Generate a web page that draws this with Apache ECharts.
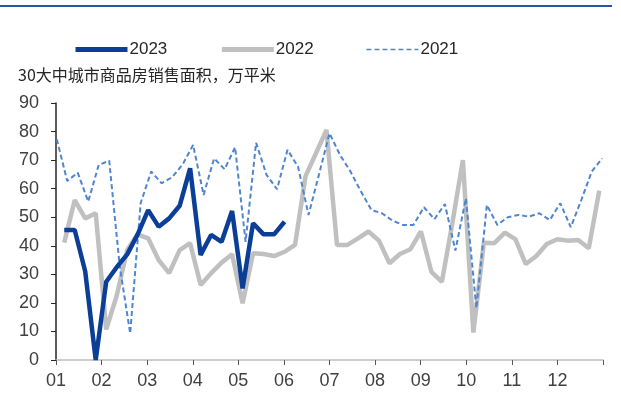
<!DOCTYPE html>
<html>
<head>
<meta charset="utf-8">
<script src="https://cdn.jsdelivr.net/npm/echarts@6/dist/echarts.min.js"></script>
<style>
html,body{margin:0;padding:0;background:#fff;}
#c{width:621px;height:397px;}
</style>
</head>
<body>
<div id="c"></div>
<script>
// Month tick labels on x axis
const monthLabels = ['01','02','03','04','05','06','07','08','09','10','11','12',''];
const yTicks = [0,10,20,30,40,50,60,70,80,90];
const seriesNames = ['2023','2022','2021'];

// Weekly values (万平米)
const v2023 = [45.5,45.5,31,0,27.4,32.5,37,44,52.5,46.7,49.6,54,67.1,36.8,43.8,41.4,52.2,25.1,47.9,44,44,48.4];
const v2022 = [41.1,56,49.6,51.4,10.7,22.5,38.5,44,42.6,35,30.4,38.5,40.9,26.3,30.4,34.1,37,19.9,37.4,37.1,36.4,37.9,40.3,64.4,72.4,80.6,40.3,40.3,42.6,45,41.8,33.9,37.1,38.8,45,30.9,27.4,48,70,9.6,41.1,40.9,44.6,42.3,33.6,36.4,40.6,42.3,41.8,42,39.1,59.3];
const v2021 = [77.3,62.7,65.6,55.5,68.3,69.8,33,9.3,55,66,61.9,64,68.5,75.3,57.8,70.6,66.8,74.5,41.4,76.1,64.8,59.8,73.6,67.7,50.8,65,79.4,71.8,66,59,52.5,51.4,48.8,47.3,47.3,53.5,49.3,54.6,38.3,56.6,18.1,54.3,47.3,50,50.8,50.2,51.4,49,54.9,46.5,56,66,70.6];

// first-week day offset within the year
const start2023 = 5.5, start2022 = 5.5, start2021 = 0.5;
const DAYS_PER_MONTH = 365 / 12;

function toPairs(vals, startDay) {
  return vals.map((v, i) => [(startDay + 7 * i) / DAYS_PER_MONTH, v]);
}

const chart = echarts.init(document.getElementById('c'), null, {renderer: 'canvas'});
const font = "'Liberation Sans', Arial, sans-serif";
chart.setOption({
  animation: false,
  backgroundColor: '#ffffff',
  graphic: [
    {type: 'line', shape: {x1: 0, y1: 6, x2: 612, y2: 6}, style: {stroke: '#2756a8', lineWidth: 2}},
    {type: 'text', left: 18, top: 67, style: {text: '30大中城市商品房销售面积，万平米', font: "16px 'Noto Sans CJK SC'", fill: '#262626'}}
  ],
  legend: {
    data: [
      {name: '2023', lineStyle: {width: 5}},
      {name: '2022', lineStyle: {width: 5}},
      {name: '2021', lineStyle: {width: 1.6}}
    ],
    left: 68, top: 36,
    itemWidth: 52, itemHeight: 14, itemGap: 52,
    itemStyle: {opacity: 0},
    textStyle: {fontFamily: font, fontSize: 17, color: '#262626', padding: [0,0,0,-3]}
  },
  grid: {left: 56, right: 18, top: 103, bottom: 37},
  xAxis: {
    type: 'value', min: 0, max: 12, interval: 1,
    axisLine: {lineStyle: {color: '#bfbfbf', width: 1.5}},
    axisTick: {show: true, length: 5, lineStyle: {color: '#595959'}},
    splitLine: {show: false},
    axisLabel: {margin: 12, fontFamily: font, fontSize: 18, color: '#404040',
      formatter: v => monthLabels[Math.round(v)] }
  },
  yAxis: {
    type: 'value', min: yTicks[0], max: yTicks[yTicks.length-1], interval: 10,
    axisLine: {show: true, lineStyle: {color: '#262626', width: 1.5}},
    axisTick: {show: true, length: 5, lineStyle: {color: '#262626'}},
    splitLine: {show: false},
    axisLabel: {margin: 17, fontFamily: font, fontSize: 18, color: '#404040'}
  },
  series: [
    {name: '2022', type: 'line', data: toPairs(v2022, start2022), symbol: 'none', z: 2,
      lineStyle: {color: '#c0c0c0', width: 4.5}, itemStyle: {color: '#c0c0c0'}},
    {name: '2021', type: 'line', data: toPairs(v2021, start2021), symbol: 'none', z: 3,
      lineStyle: {color: '#4f86cf', width: 2, type: [5, 3]}, itemStyle: {color: '#4f86cf'}},
    {name: '2023', type: 'line', data: toPairs(v2023, start2023), symbol: 'none', z: 4,
      lineStyle: {color: '#0b3f97', width: 4.5}, itemStyle: {color: '#0b3f97'}}
  ]
});
</script>
</body>
</html>
